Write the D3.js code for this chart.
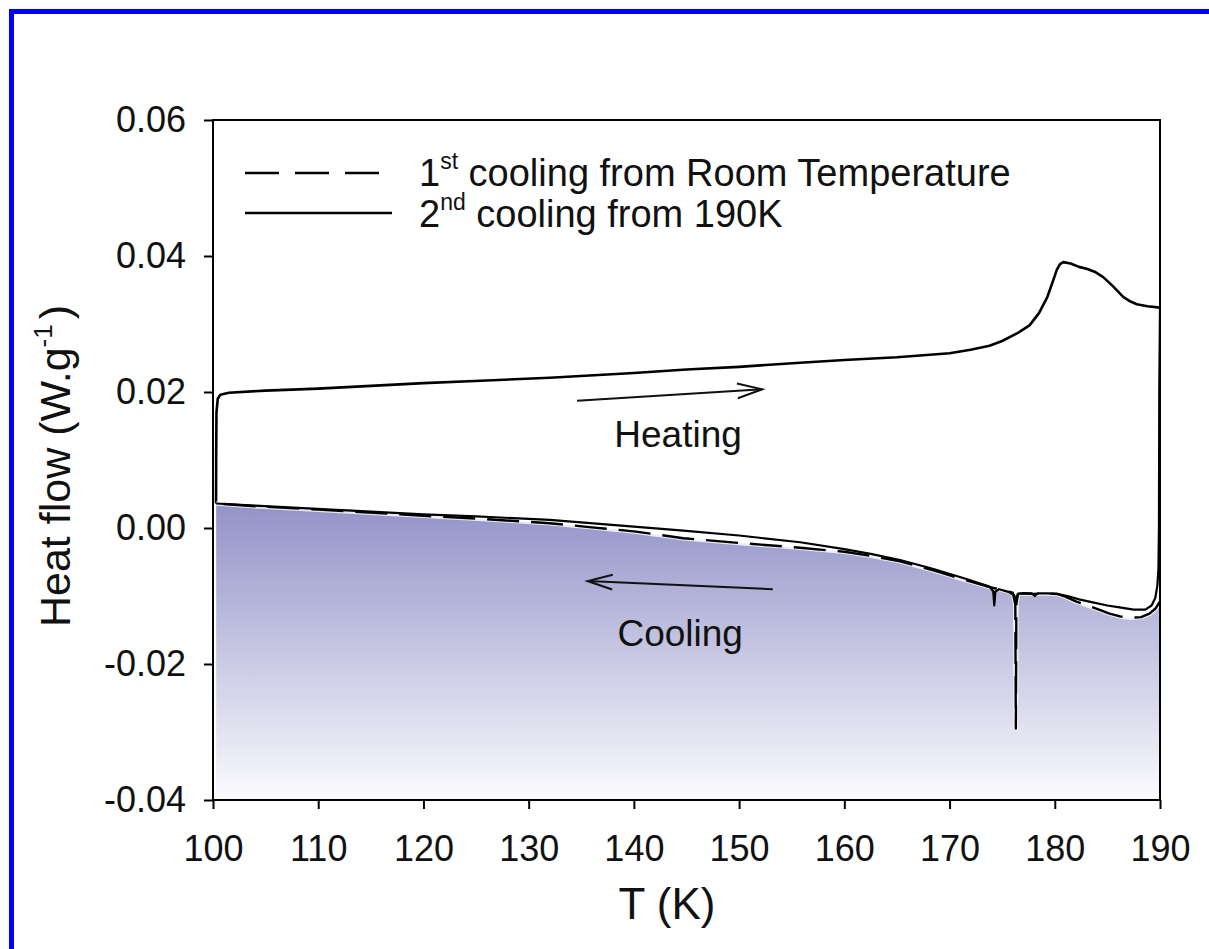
<!DOCTYPE html>
<html>
<head>
<meta charset="utf-8">
<script src="https://cdn.jsdelivr.net/npm/d3@7"></script>
<style>
  html, body { margin: 0; padding: 0; background: #fff; }
  svg { display: block; font-family: "Liberation Sans", Arial, sans-serif; }
</style>
</head>
<body>
<svg id="chart" width="1209" height="949"></svg>
<script>
// DSC heat-flow traces: [T (K), heat flow (W/g)]
const heating = [
  [100.29, 0.0036], [100.30, 0.0100], [100.33, 0.0170], [100.45, 0.0190], [100.7, 0.0196],
  [101.5, 0.0199], [105, 0.0202], [110, 0.0205], [115, 0.0209], [120, 0.0213], [126, 0.0217],
  [132, 0.0221], [140, 0.0228], [145, 0.0233], [150, 0.0237], [155.8, 0.0243], [160, 0.0247],
  [165, 0.0251], [170, 0.0257], [172, 0.0262], [173.8, 0.0268], [175, 0.0275], [176.5, 0.0287],
  [177.6, 0.0298], [178.5, 0.0316], [179.3, 0.0340], [179.8, 0.0362], [180.2, 0.0380],
  [180.5, 0.0388], [180.8, 0.0391], [181.5, 0.0389], [182.3, 0.0384], [183.1, 0.0381],
  [183.9, 0.0376], [184.6, 0.0369], [185.5, 0.0356], [186.5, 0.0340], [187.2, 0.0333],
  [187.8, 0.0329], [188.8, 0.0326], [190, 0.0324]
];

// 2nd cooling from 190 K (solid)
const cooling2 = [
  [190, 0.0324], [189.93, 0.0200], [189.9, 0.0000], [189.85, -0.0060], [189.75, -0.0085],
  [189.55, -0.0103], [189.2, -0.0114], [188.6, -0.0120], [187.5, -0.0120], [186.3, -0.0117],
  [185, -0.0114], [183.5, -0.0109], [182.3, -0.0105], [181.2, -0.0100], [180.3, -0.0097],
  [179.3, -0.0096], [178.4, -0.0096], [178.1, -0.0100], [177.8, -0.0096], [177, -0.0096],
  [176.5, -0.0097], [176.3, -0.0106], [176.15, -0.0099], [175.6, -0.0094], [174.7, -0.0090],
  [174.35, -0.0094], [174.25, -0.0114], [174.15, -0.0093], [173.8, -0.0086], [171.6, -0.0075],
  [168.4, -0.0060], [165.3, -0.0047], [162.5, -0.0038], [160, -0.0031], [155.8, -0.0021],
  [150, -0.0011], [144.7, -0.0004], [140, 0.0002], [132, 0.0012], [125, 0.0017], [120, 0.0020],
  [115, 0.0024], [109, 0.0029], [104, 0.0033], [100.3, 0.0036]
];

// 1st cooling from room temperature (dashed)
const cooling1 = [
  [190, -0.0108], [189.6, -0.0118], [189.0, -0.0126], [188.2, -0.0131], [187.2, -0.0132],
  [186.2, -0.0130], [185.2, -0.0126], [184.2, -0.0120], [183.0, -0.0113], [182.0, -0.0108],
  [181.0, -0.0101], [180.2, -0.0097], [179, -0.0096], [178, -0.0097], [177, -0.0096],
  [176.5, -0.0097], [176.35, -0.0112], [176.3, -0.0295], [176.25, -0.0112], [176.0, -0.0095],
  [175, -0.0091], [173.8, -0.0087], [171.6, -0.0077], [168.4, -0.0062], [165.3, -0.0049],
  [162.5, -0.0041], [160, -0.0035], [155.8, -0.0029], [150, -0.0022], [144.7, -0.0015],
  [140, -0.0005], [136, 0.0001], [132, 0.0007], [126, 0.0013], [120, 0.0018], [110, 0.0027],
  [104, 0.0032], [100.3, 0.0036]
];

const xTicks = [100, 110, 120, 130, 140, 150, 160, 170, 180, 190];
const xTickLabels = ["100", "110", "120", "130", "140", "150", "160", "170", "180", "190"];
const yTicks = [-0.04, -0.02, 0.00, 0.02, 0.04, 0.06];
const yTickLabels = ["-0.04", "-0.02", "0.00", "0.02", "0.04", "0.06"];

// direction arrows: [from, to] in data units
const heatingArrow = [[134.6, 0.0187], [152.2, 0.0204]];
const coolingArrow = [[153.2, -0.0090], [135.6, -0.0078]];

const svg = d3.select("#chart");
const W = 1209, H = 949;
const m = { left: 213, right: 1160, top: 120, bottom: 800 };

const x = d3.scaleLinear().domain([100, 190]).range([m.left, m.right]);
const y = d3.scaleLinear().domain([-0.04, 0.06]).range([m.bottom, m.top]);

// outer blue frame
svg.append("rect")
  .attr("x", 11.5).attr("y", 11.5)
  .attr("width", W + 20).attr("height", H + 20)
  .attr("fill", "none").attr("stroke", "#0000ff").attr("stroke-width", 5);

const defs = svg.append("defs");
const grad = defs.append("linearGradient")
  .attr("id", "coolFill")
  .attr("gradientUnits", "userSpaceOnUse")
  .attr("x1", 0).attr("x2", 0)
  .attr("y1", y(0.0036)).attr("y2", y(-0.04));
grad.append("stop").attr("offset", "0%").attr("stop-color", "#9292c8");
grad.append("stop").attr("offset", "100%").attr("stop-color", "#fbfbfe");

defs.append("clipPath").attr("id", "plotClip")
  .append("rect").attr("x", m.left).attr("y", m.top)
  .attr("width", m.right - m.left).attr("height", m.bottom - m.top);

const plot = svg.append("g").attr("clip-path", "url(#plotClip)");

// shaded region beneath the 1st cooling trace
const area = d3.area()
  .x(d => x(d[0]))
  .y0(y(-0.04))
  .y1(d => y(d[1]));
plot.append("path")
  .datum(cooling1)
  .attr("d", area)
  .attr("fill", "url(#coolFill)");

const line = d3.line().x(d => x(d[0])).y(d => y(d[1]));

plot.append("path").datum(heating).attr("d", line)
  .attr("fill", "none").attr("stroke", "#000").attr("stroke-width", 2.6)
  .attr("stroke-linejoin", "round");

plot.append("path").datum(cooling1).attr("d", line)
  .attr("fill", "none").attr("stroke", "#fff").attr("stroke-width", 4.5)
  .attr("stroke-linejoin", "round").attr("opacity", 0.8);

plot.append("path").datum(cooling2).attr("d", line)
  .attr("fill", "none").attr("stroke", "#000").attr("stroke-width", 2.2)
  .attr("stroke-linejoin", "round");

plot.append("path").datum(cooling1).attr("d", line)
  .attr("fill", "none").attr("stroke", "#000").attr("stroke-width", 2.4)
  .attr("stroke-dasharray", "32,12").attr("stroke-linejoin", "round");

// plot frame
svg.append("rect")
  .attr("x", m.left).attr("y", m.top)
  .attr("width", m.right - m.left).attr("height", m.bottom - m.top)
  .attr("fill", "none").attr("stroke", "#000").attr("stroke-width", 2);

// axes
const xAxis = svg.append("g")
  .attr("transform", `translate(0,${m.bottom})`)
  .call(d3.axisBottom(x).tickValues(xTicks).tickSize(9).tickSizeOuter(0).tickPadding(26)
    .tickFormat((d, i) => xTickLabels[i]));
const yAxis = svg.append("g")
  .attr("transform", `translate(${m.left},0)`)
  .call(d3.axisLeft(y).tickValues(yTicks).tickSize(9).tickSizeOuter(0).tickPadding(18)
    .tickFormat((d, i) => yTickLabels[i]));
[xAxis, yAxis].forEach(g => {
  g.select(".domain").remove();
  g.selectAll(".tick line").attr("stroke", "#000").attr("stroke-width", 2);
  g.selectAll(".tick text")
    .attr("fill", "#111")
    .style("font-family", '"Liberation Sans", Arial, sans-serif')
    .style("font-size", "36px");
});

// axis titles
svg.append("text")
  .attr("x", 667).attr("y", 919)
  .attr("text-anchor", "middle")
  .attr("font-size", 44).attr("fill", "#111")
  .text("T (K)");

const yTitle = svg.append("text")
  .attr("transform", "translate(70,466) rotate(-90)")
  .attr("text-anchor", "middle")
  .attr("font-size", 43).attr("fill", "#111");
yTitle.append("tspan").text("Heat flow (W.g");
yTitle.append("tspan").attr("font-size", 26).attr("dy", -18).text("-1");
yTitle.append("tspan").attr("dy", 18).attr("dx", 5).text(")");

// legend
const legend = svg.append("g");
legend.append("line")
  .attr("x1", 245).attr("x2", 380).attr("y1", 173).attr("y2", 173)
  .attr("stroke", "#000").attr("stroke-width", 2.4).attr("stroke-dasharray", "34,16");
legend.append("line")
  .attr("x1", 245).attr("x2", 392).attr("y1", 213).attr("y2", 213)
  .attr("stroke", "#000").attr("stroke-width", 2.4);

const l1 = legend.append("text").attr("x", 419).attr("y", 186)
  .attr("font-size", 38).attr("fill", "#111");
l1.append("tspan").text("1");
l1.append("tspan").attr("font-size", 23).attr("dy", -17).text("st");
l1.append("tspan").attr("dy", 17).text(" cooling from Room Temperature");

const l2 = legend.append("text").attr("x", 419).attr("y", 227)
  .attr("font-size", 38).attr("fill", "#111");
l2.append("tspan").text("2");
l2.append("tspan").attr("font-size", 23).attr("dy", -17).text("nd");
l2.append("tspan").attr("dy", 17).text(" cooling from 190K");

// direction arrows and labels
function arrow(seg) {
  const [p0, p1] = seg.map(p => [x(p[0]), y(p[1])]);
  const ang = Math.atan2(p1[1] - p0[1], p1[0] - p0[0]);
  const len = 26, spread = 0.29;
  const g = svg.append("g").attr("stroke", "#111").attr("stroke-width", 2).attr("fill", "none");
  g.append("line").attr("x1", p0[0]).attr("y1", p0[1]).attr("x2", p1[0]).attr("y2", p1[1]);
  const pts = [
    [p1[0] - len * Math.cos(ang - spread), p1[1] - len * Math.sin(ang - spread)],
    p1,
    [p1[0] - len * Math.cos(ang + spread), p1[1] - len * Math.sin(ang + spread)]
  ];
  g.append("polyline").attr("points", pts.map(p => p.join(",")).join(" "));
}
arrow(heatingArrow);
arrow(coolingArrow);

svg.append("text").attr("x", x(144.2)).attr("y", 447)
  .attr("text-anchor", "middle").attr("font-size", 37).attr("fill", "#111")
  .text("Heating");
svg.append("text").attr("x", x(144.4)).attr("y", 646)
  .attr("text-anchor", "middle").attr("font-size", 37).attr("fill", "#111")
  .text("Cooling");
</script>
</body>
</html>
